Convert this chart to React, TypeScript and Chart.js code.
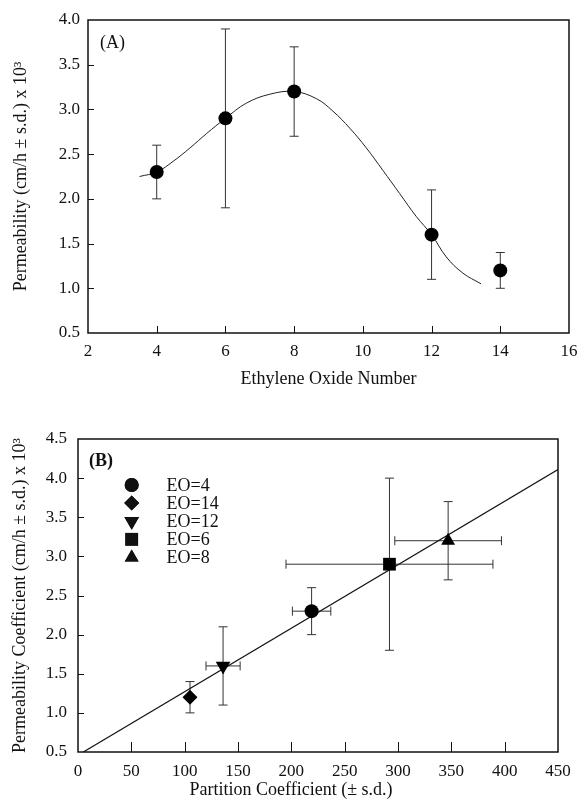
import React, { useEffect, useRef } from "react";
import { Chart, registerables } from "chart.js";
import { drawPoint } from "chart.js/helpers";

Chart.register(...registerables);

// ---------- Panel A data ----------
const eoNumber = [4, 6, 8, 12, 14];
const permeabilityA = [2.3, 2.9, 3.2, 1.6, 1.2];
const permeabilityASd = [0.3, 1.0, 0.5, 0.5, 0.2];
const fitCurveX = [3.5, 4.0, 4.48, 4.97, 5.45, 6.0, 6.61, 7.29, 8.0, 8.65, 9.13, 9.62, 10.1, 10.58, 11.07, 11.56, 12.0, 12.43, 12.91, 13.44];
const fitCurveY = [2.25, 2.3, 2.42, 2.57, 2.73, 2.9, 3.07, 3.17, 3.2, 3.12, 2.98, 2.79, 2.57, 2.32, 2.06, 1.8, 1.6, 1.35, 1.17, 1.05];

// ---------- Panel B data ----------
const legendLabels = ["EO=4", "EO=14", "EO=12", "EO=6", "EO=8"];
const partitionCoef = [219, 105, 136, 292, 347];
const partitionSd = [18, 0, 16, 97, 50];
const permeabilityB = [2.3, 1.2, 1.6, 2.9, 3.2];
const permeabilityBSd = [0.3, 0.2, 0.5, 1.1, 0.5];
const regressionX = [5, 450];
const regressionY = [0.5, 4.11];

const SERIF = "'Liberation Serif', 'Times New Roman', serif";
const INK = "#111";

const paperPlugin = {
  id: "paper",
  beforeDatasetsDraw(chart: any) {
    const { ctx, scales } = chart;
    const xs = scales.x;
    const ys = scales.y;
    ctx.save();
    ctx.strokeStyle = "#333";
    ctx.lineWidth = 1;
    const seg = (x1: number, y1: number, x2: number, y2: number) => {
      ctx.beginPath();
      ctx.moveTo(x1, y1);
      ctx.lineTo(x2, y2);
      ctx.stroke();
    };
    chart.data.datasets.forEach((ds: any) => {
      if (!ds.errY && !ds.errX) return;
      ds.data.forEach((p: any, i: number) => {
        const px = xs.getPixelForValue(p.x);
        const py = ys.getPixelForValue(p.y);
        const ey = ds.errY ? ds.errY[i] : 0;
        const ex = ds.errX ? ds.errX[i] : 0;
        if (ey) {
          const t = ys.getPixelForValue(p.y + ey);
          const b = ys.getPixelForValue(p.y - ey);
          seg(px, t, px, b);
          seg(px - 4.5, t, px + 4.5, t);
          seg(px - 4.5, b, px + 4.5, b);
        }
        if (ex) {
          const l = xs.getPixelForValue(p.x - ex);
          const r = xs.getPixelForValue(p.x + ex);
          seg(l, py, r, py);
          seg(l, py - 4.5, l, py + 4.5);
          seg(r, py - 4.5, r, py + 4.5);
        }
      });
    });
    ctx.restore();
  },
  afterDraw(chart: any, _args: any, opts: any) {
    const { ctx, chartArea: a, scales } = chart;
    const xs = scales.x;
    const ys = scales.y;
    ctx.save();
    ctx.strokeStyle = INK;
    ctx.lineWidth = 1.5;
    ctx.strokeRect(a.left, a.top, a.right - a.left, a.bottom - a.top);
    ctx.lineWidth = 1;
    xs.ticks.forEach((t: any) => {
      if (t.value <= xs.min || t.value >= xs.max) return;
      const px = Math.round(xs.getPixelForValue(t.value)) + 0.5;
      ctx.beginPath();
      ctx.moveTo(px, a.bottom);
      ctx.lineTo(px, a.bottom - opts.xTick);
      ctx.stroke();
    });
    ys.ticks.forEach((t: any) => {
      if (t.value <= ys.min || t.value >= ys.max) return;
      const py = Math.round(ys.getPixelForValue(t.value)) + 0.5;
      ctx.beginPath();
      ctx.moveTo(a.left, py);
      ctx.lineTo(a.left + opts.yTick, py);
      ctx.stroke();
    });
    ctx.fillStyle = INK;
    ctx.textBaseline = "middle";
    ctx.textAlign = "left";
    ctx.font = `${opts.panelBold ? "bold " : ""}18px ${SERIF}`;
    ctx.fillText(opts.panel, a.left + opts.panelDx, a.top + opts.panelDy);
    if (opts.legend) {
      const lg = opts.legend;
      ctx.font = `18px ${SERIF}`;
      lg.items.forEach((it: any, i: number) => {
        const y = lg.y + i * lg.step;
        ctx.fillStyle = INK;
        ctx.strokeStyle = INK;
        drawPoint(ctx, { pointStyle: it.style, radius: it.radius, rotation: it.rotation, borderWidth: 0 }, lg.markerX, y);
        ctx.fill();
        ctx.fillText(it.label, lg.textX, y + 1);
      });
    }
    ctx.restore();
  },
};

const tickFont = { family: SERIF, size: 17 };
const titleFont = { family: SERIF, size: 18 };

function makeAxis(extra: any) {
  return {
    type: "linear",
    grid: { display: false, drawTicks: false },
    border: { display: false },
    ...extra,
  };
}

function fixX(h: number) {
  return (s: any) => {
    s.height = h;
    s.paddingLeft = 0;
    s.paddingRight = 0;
  };
}
function fixY(w: number) {
  return (s: any) => {
    s.width = w;
    s.paddingTop = 0;
    s.paddingBottom = 0;
  };
}

function PanelA() {
  const ref = useRef<HTMLCanvasElement>(null);
  useEffect(() => {
    const points = eoNumber.map((x, i) => ({ x, y: permeabilityA[i] }));
    const curve = fitCurveX.map((x, i) => ({ x, y: fitCurveY[i] }));
    const chart = new Chart(ref.current as HTMLCanvasElement, {
      type: "scatter",
      data: {
        datasets: [
          {
            data: points,
            errY: permeabilityASd,
            pointStyle: "circle",
            pointRadius: 7,
            pointBackgroundColor: "#000",
            pointBorderWidth: 0,
            showLine: false,
          } as any,
          {
            data: curve,
            showLine: true,
            borderColor: "#222",
            borderWidth: 1,
            pointRadius: 0,
            tension: 0.4,
          } as any,
        ],
      },
      options: {
        responsive: false,
        animation: false,
        events: [],
        layout: { padding: { top: 20, right: 9, left: 0, bottom: 10 } },
        plugins: {
          legend: { display: false },
          tooltip: { enabled: false },
          paper: { xTick: 7, yTick: 6, panel: "(A)", panelDx: 12, panelDy: 23, panelBold: false },
        } as any,
        scales: {
          x: makeAxis({
            min: 2,
            max: 16,
            ticks: { stepSize: 2, font: tickFont, color: INK, padding: 8, maxRotation: 0 },
            title: { display: true, text: "Ethylene Oxide Number", font: titleFont, color: INK, padding: 0 },
            afterFit: fixX(57),
          }),
          y: makeAxis({
            min: 0.5,
            max: 4.0,
            ticks: { stepSize: 0.5, font: tickFont, color: INK, padding: 8, callback: (v: any) => Number(v).toFixed(1) },
            title: { display: true, text: "Permeability (cm/h ± s.d.) x 10³", font: titleFont, color: INK, padding: { top: 10, bottom: 0 } },
            afterFit: fixY(88),
          }),
        } as any,
      },
      plugins: [paperPlugin as any],
    });
    return () => chart.destroy();
  }, []);
  return <canvas ref={ref} width={578} height={400} style={{ position: "absolute", left: 0, top: 0, width: 578, height: 400 }} />;
}

function PanelB() {
  const ref = useRef<HTMLCanvasElement>(null);
  useEffect(() => {
    const styles = [
      { style: "circle", radius: 7, rotation: 0 },
      { style: "rectRot", radius: 7.5, rotation: 0 },
      { style: "triangle", radius: 8.5, rotation: 180 },
      { style: "rect", radius: 9, rotation: 0 },
      { style: "triangle", radius: 8, rotation: 0 },
    ];
    const pointSets = legendLabels.map((label, i) => ({
      label,
      data: [{ x: partitionCoef[i], y: permeabilityB[i] }],
      errX: [partitionSd[i]],
      errY: [permeabilityBSd[i]],
      pointStyle: styles[i].style,
      pointRadius: styles[i].radius,
      rotation: styles[i].rotation,
      pointBackgroundColor: "#000",
      pointBorderColor: "#000",
      pointBorderWidth: 0,
      showLine: false,
    }));
    const fit = regressionX.map((x, i) => ({ x, y: regressionY[i] }));
    const chart = new Chart(ref.current as HTMLCanvasElement, {
      type: "scatter",
      data: {
        datasets: [
          ...(pointSets as any[]),
          {
            data: fit,
            showLine: true,
            borderColor: "#111",
            borderWidth: 1.2,
            pointRadius: 0,
          } as any,
        ],
      },
      options: {
        responsive: false,
        animation: false,
        events: [],
        layout: { padding: { top: 39, right: 20, left: 0, bottom: 6 } },
        plugins: {
          legend: { display: false },
          tooltip: { enabled: false },
          paper: {
            xTick: 10,
            yTick: 6,
            panel: "(B)",
            panelDx: 11,
            panelDy: 22,
            panelBold: true,
            legend: {
              markerX: 131.7,
              textX: 166.5,
              y: 85,
              step: 18.1,
              items: legendLabels.map((label, i) => ({ label, ...styles[i] })),
            },
          },
        } as any,
        scales: {
          x: makeAxis({
            min: 0,
            max: 450,
            ticks: { stepSize: 50, font: tickFont, color: INK, padding: 9, maxRotation: 0 },
            title: {
              display: true,
              text: "Partition Coefficient (± s.d.)" + "\u00A0".repeat(12),
              font: titleFont,
              color: INK,
              padding: 0,
            },
            afterFit: fixX(49),
          }),
          y: makeAxis({
            min: 0.5,
            max: 4.5,
            ticks: { stepSize: 0.5, font: tickFont, color: INK, padding: 11, callback: (v: any) => Number(v).toFixed(1) },
            title: {
              display: true,
              text: "Permeability Coefficient (cm/h ± s.d.) x 10³",
              font: titleFont,
              color: INK,
              padding: { top: 9, bottom: 0 },
            },
            afterFit: fixY(78),
          }),
        } as any,
      },
      plugins: [paperPlugin as any],
    });
    return () => chart.destroy();
  }, []);
  return <canvas ref={ref} width={578} height={407} style={{ position: "absolute", left: 0, top: 400, width: 578, height: 407 }} />;
}

export default function App() {
  return (
    <div style={{ position: "absolute", left: 0, top: 0, width: 578, height: 807, background: "#fff", overflow: "hidden" }}>
      <PanelA />
      <PanelB />
    </div>
  );
}
